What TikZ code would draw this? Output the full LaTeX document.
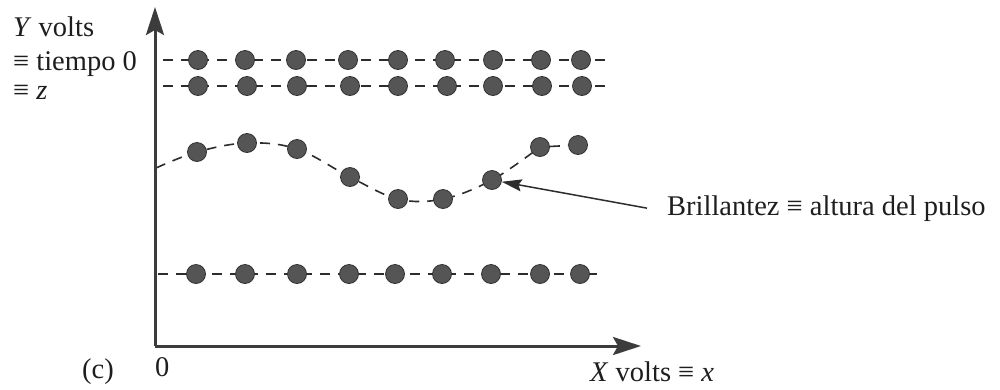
\documentclass[tikz,border=0pt]{standalone}
\usepackage{fontspec}
\setmainfont{Liberation Serif}
\usetikzlibrary{arrows.meta,backgrounds}
\definecolor{dotgray}{RGB}{85,85,85}
\definecolor{dotedge}{RGB}{50,50,50}
\definecolor{axisgray}{RGB}{60,60,60}
\definecolor{linegray}{RGB}{45,45,45}
\definecolor{textgray}{RGB}{30,30,30}
\begin{document}
\begin{tikzpicture}[x=1pt,y=-1pt,
  dot/.style={circle,fill=dotgray,draw=dotedge,line width=0.8pt,minimum size=19pt,inner sep=0pt},
  axis/.style={line width=3pt,draw=axisgray,-{Stealth[length=28pt,width=18pt,inset=5pt,fill=axisgray]}},
  row/.style={draw=linegray,line width=1.6pt,dash pattern=on 10pt off 8pt},
  lbl/.style={font=\fontsize{28.5}{32}\selectfont,inner sep=0pt,text=textgray}]
\useasboundingbox (0,0) rectangle (1000,389);
% axes
\coordinate (O) at (155,346);
\coordinate (ytip) at (155,7);
\coordinate (xtip) at (641,346);
\draw[axis] (O) -- (ytip);
\draw[axis] (O) -- (xtip);
% row 1
\foreach \x [count=\i] in {198,245,296,348,398,445,493,541,581}
  \node[dot] (a\i) at (\x,60) {};
\coordinate (a0) at (163,60);
\coordinate (a10) at (606,60);
% row 2
\foreach \x [count=\i] in {198,247,297,350,398,447,493,542,582}
  \node[dot] (b\i) at (\x,86) {};
\coordinate (b0) at (163,86);
\coordinate (b10) at (612,86);
% pulse row
\coordinate (c0) at (156,168);
\node[dot] (c1) at (197,152) {};
\node[dot] (c2) at (247,143) {};
\node[dot] (c3) at (297,149) {};
\node[dot] (c4) at (350,177) {};
\node[dot] (c5) at (398,199) {};
\node[dot] (c6) at (443,199) {};
\node[dot] (c7) at (492,180) {};
\node[dot] (c8) at (540,147) {};
\node[dot] (c9) at (578,145) {};
% row 4
\foreach \x [count=\i] in {196,245,297,349,395,442,491,540,580}
  \node[dot] (d\i) at (\x,274) {};
\coordinate (d0) at (158,274);
\coordinate (d10) at (597,274);
% labels
\node[lbl,anchor=base west] (yv) at (13,36) {\textit{Y} volts};
\node[lbl,anchor=base west] (yt) at (13,70) {≡ tiempo 0};
\node[lbl,anchor=base west] (yz) at (13,99) {≡ \textit{z}};
\node[lbl,anchor=base west] (cl) at (82,378) {(c)};
\node[lbl,anchor=base west] (zero) at (155,376) {0};
\node[lbl,anchor=base west] (xv) at (590,381) {\textit{X} volts ≡ \textit{x}};
\node[lbl,anchor=base west] (bri) at (667,215) {Brillantez ≡ altura del pulso};
\draw[line width=1.5pt,draw=linegray,-{Stealth[length=20pt,width=12pt,inset=3pt,fill=linegray]}] ([xshift=-20pt]bri.west) -- (c7);
\begin{scope}[on background layer]
\fill[white] (0,0) rectangle (1000,389);
\draw[row] (a0) -- (a10);
\draw[row] (b0) -- (b10);
\draw[row] plot[smooth,tension=0.6] coordinates {(c0) (c1.center) (c2.center) (c3.center) (c4.center) (c5.center) (c6.center) (c7.center) (c8.center)};
\draw[row] (c8) -- (c9);
\draw[row] (d0) -- (d10);
\end{scope}
\end{tikzpicture}
\end{document}
